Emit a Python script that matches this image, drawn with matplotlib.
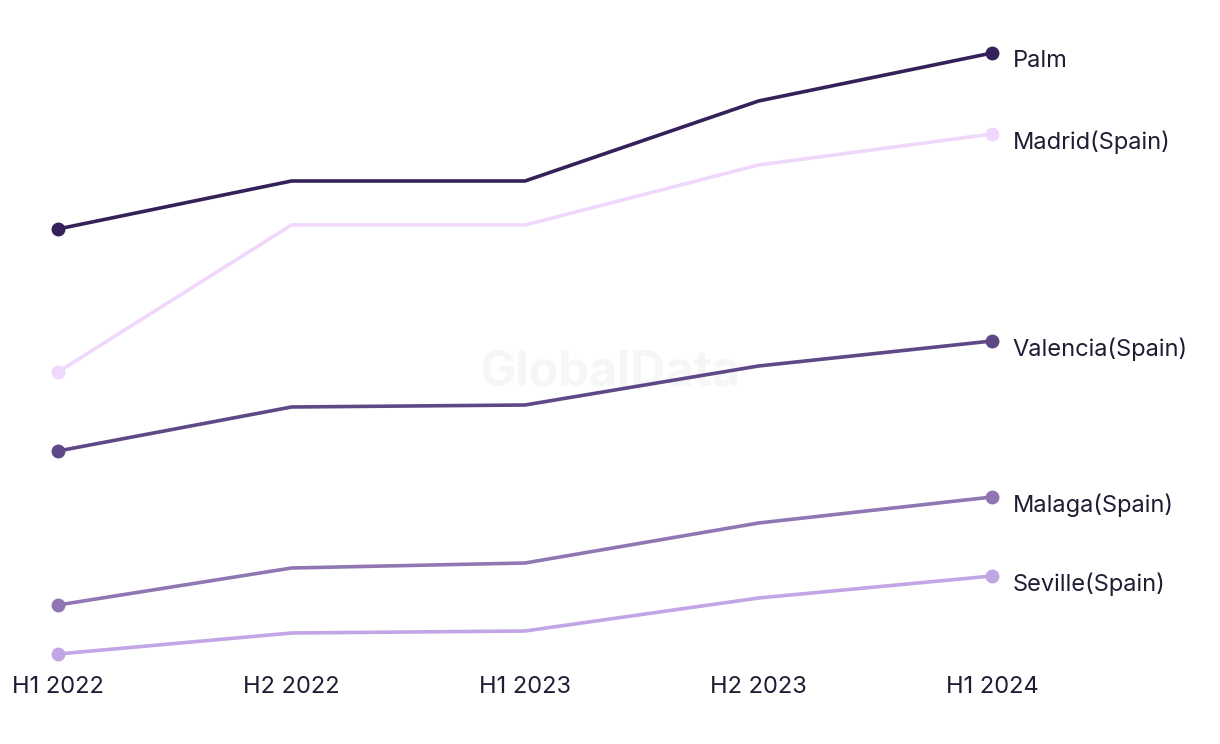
import matplotlib
matplotlib.use("Agg")
import matplotlib.pyplot as plt

plt.rcParams['font.family'] = ['Inter', 'DejaVu Sans']

periods = ['H1 2022', 'H2 2022', 'H1 2023', 'H2 2023', 'H1 2024']

# values (no axis scale shown, relative units)
palm = [471, 519, 519, 599, 647]
madrid = [328, 475, 475, 535, 566]
valencia = [249, 293, 295, 334, 359]
malaga = [95, 132, 137, 177, 203]
seville = [46, 67, 69, 102, 124]

series = [
    ('Palm', palm, '#34215a'),
    ('Madrid(Spain)', madrid, '#f0d8fc'),
    ('Valencia(Spain)', valencia, '#5e4886'),
    ('Malaga(Spain)', malaga, '#9076b2'),
    ('Seville(Spain)', seville, '#c1a5e4'),
]

W, H = 1220, 744
fig = plt.figure(figsize=(W / 100, H / 100), dpi=100)
ax = fig.add_axes([58 / W, (H - 654) / H, (992 - 58) / W, (654 - 53) / H])

# faint watermark behind the lines
ax.text(610 / W, 1 - 372 / H, 'GlobalData', transform=fig.transFigure,
        ha='center', va='center', fontsize=35, fontweight='bold',
        color='#f6f6f6', zorder=0)

x = list(range(len(periods)))
for name, vals, col in series:
    ax.plot(x, vals, color=col, lw=2.6, marker='o', ms=9,
            markevery=[0, len(x) - 1], clip_on=False, zorder=2)
    ax.annotate(name, (x[-1], vals[-1]), xytext=(15, -6),
                textcoords='offset points', ha='left', va='center',
                fontsize=17, color='#1e1d33')

ax.set_xlim(0, 4)
ax.set_ylim(46, 647)
ax.set_xticks(x)
ax.set_xticklabels(periods, fontsize=17, color='#1e1d33')
ax.tick_params(axis='x', length=0, pad=16)
ax.set_yticks([])
for s in ax.spines.values():
    s.set_visible(False)
ax.patch.set_alpha(0)

fig.savefig('out.png', dpi=100)
